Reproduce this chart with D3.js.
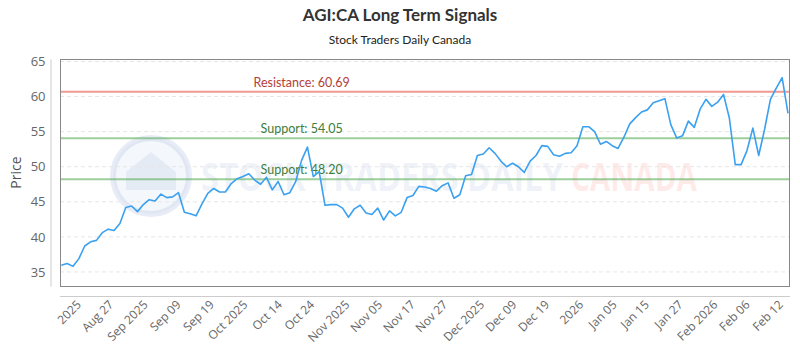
<!DOCTYPE html>
<html>
<head>
<meta charset="utf-8">
<script src="https://cdn.jsdelivr.net/npm/d3@7"></script>
<style>
  body { margin: 0; background: #fff; }
  svg { display: block; }
</style>
</head>
<body>
<div id="chart"></div>
<script>
// Closing prices, one per trading day
const prices = [
  35.96, 36.2, 35.8, 36.9, 38.7, 39.3, 39.5, 40.6, 41.1, 40.9,
  41.9, 44.2, 44.4, 43.6, 44.6, 45.3, 45.1, 46.1, 45.6, 45.7,
  46.3, 43.5, 43.3, 43.0, 44.7, 46.2, 46.9, 46.4, 46.4, 47.6,
  48.3, 48.6, 49.0, 48.1, 47.5, 48.5, 46.7, 47.9, 46.0, 46.3,
  47.9, 50.9, 52.8, 48.6, 49.3, 44.5, 44.6, 44.6, 44.1, 42.8,
  44.0, 44.5, 43.4, 43.2, 44.1, 42.4, 43.7, 43.0, 43.5, 45.6,
  45.9, 47.2, 47.1, 46.9, 46.5, 47.3, 47.7, 45.5, 46.0, 48.7,
  48.9, 51.6, 51.8, 52.7, 51.9, 50.8, 50.0, 50.5, 50.0, 49.2,
  50.8, 51.6, 53.0, 52.9, 51.7, 51.5, 51.9, 52.0, 53.0, 55.7,
  55.7, 55.0, 53.2, 53.6, 53.0, 52.6, 54.2, 56.1, 57.0, 57.8,
  58.1, 59.1, 59.4, 59.7, 56.0, 54.1, 54.4, 56.5, 55.6, 58.2,
  59.6, 58.6, 59.2, 60.3, 56.9, 50.3, 50.3, 52.3, 55.5, 51.6,
  55.3, 59.6, 61.2, 62.7, 57.6
];

// X tick labels and where they fall (in data-index units)
const tickLabels = ["2025", "Aug 27", "Sep 2025", "Sep 09", "Sep 19", "Oct 2025", "Oct 14", "Oct 24",
  "Nov 2025", "Nov 05", "Nov 17", "Nov 27", "Dec 2025", "Dec 09", "Dec 19", "2026",
  "Jan 05", "Jan 15", "Jan 27", "Feb 2026", "Feb 06", "Feb 12"];
const tickAt = [3.0, 8.5, 14.4, 20.0, 25.7, 31.4, 37.3, 42.8, 48.8, 54.4, 60.0, 65.5,
  71.8, 77.3, 82.9, 88.7, 94.4, 99.9, 105.7, 111.6, 117.1, 122.8];

const yTicks = [35, 40, 45, 50, 55, 60, 65];

// Horizontal signal levels
const levels = [
  { label: "Resistance: 60.69", value: 60.69, kind: "resistance" },
  { label: "Support: 54.05", value: 54.05, kind: "support" },
  { label: "Support: 48.20", value: 48.20, kind: "support" }
];

const width = 800, height = 350;
const plot = { left: 60, right: 790, top: 59, bottom: 286 };

const svg = d3.select("#chart")
  .append("svg")
  .attr("width", width)
  .attr("height", height)
  .style("font-family", "'Open Sans', sans-serif");

// Scales
const x = d3.scaleLinear().domain([0, prices.length - 1]).range([61.3, 788]);
const y = d3.scaleLinear().domain([33, 65.35]).range([plot.bottom, plot.top]);

// Title and subtitle
svg.append("text")
  .attr("x", width / 2).attr("y", 21)
  .attr("text-anchor", "middle")
  .style("font-family", "Lato, sans-serif")
  .style("font-size", "17px").style("font-weight", "bold")
  .attr("fill", "#333")
  .text("AGI:CA Long Term Signals");

svg.append("text")
  .attr("x", width / 2).attr("y", 44)
  .attr("text-anchor", "middle")
  .style("font-family", "Lato, sans-serif")
  .style("font-size", "12px")
  .attr("fill", "#222")
  .text("Stock Traders Daily Canada");

// Watermark (logo circle + text)
const wm = svg.append("g").attr("pointer-events", "none");
wm.append("circle")
  .attr("cx", 151).attr("cy", 176).attr("r", 38)
  .attr("fill", "rgba(220,228,242,0.3)")
  .attr("stroke", "rgba(195,208,232,0.4)")
  .attr("stroke-width", 6);
wm.append("path")
  .attr("d", "M126,190 L126,172 L151,152 L176,172 L176,190 Z")
  .attr("fill", "rgba(195,208,232,0.3)");
wm.append("text")
  .attr("x", 201).attr("y", 191)
  .attr("textLength", 362).attr("lengthAdjust", "spacingAndGlyphs")
  .style("font-size", "40px").style("font-weight", "bold")
  .attr("fill", "rgba(205,215,235,0.32)")
  .text("STOCK TRADERS DAILY");
wm.append("text")
  .attr("x", 571).attr("y", 191)
  .attr("textLength", 126).attr("lengthAdjust", "spacingAndGlyphs")
  .style("font-size", "40px").style("font-weight", "bold")
  .attr("fill", "rgba(255,195,195,0.35)")
  .text("CANADA");

// Dashed horizontal grid
svg.append("g")
  .selectAll("line")
  .data(yTicks)
  .join("line")
  .attr("x1", plot.left).attr("x2", plot.right)
  .attr("y1", d => y(d)).attr("y2", d => y(d))
  .attr("stroke", "#e6e6e6")
  .attr("stroke-dasharray", "4,3");

// Plot frame
svg.append("rect")
  .attr("x", plot.left + 0.5).attr("y", plot.top + 0.5)
  .attr("width", plot.right - plot.left - 1).attr("height", plot.bottom - plot.top)
  .attr("fill", "none")
  .attr("stroke", "#888");

// Y axis
const yAxis = svg.append("g")
  .attr("transform", "translate(50.5,0)")
  .call(d3.axisLeft(y).tickValues(yTicks).tickSize(0).tickSizeOuter(0).tickPadding(5));
yAxis.select(".domain").attr("stroke", "#ccc");
yAxis.selectAll("text")
  .style("font-size", "13px")
  .style("font-family", "'Open Sans', sans-serif")
  .attr("fill", "#666");

svg.append("text")
  .attr("transform", `translate(21,${(plot.top + plot.bottom) / 2}) rotate(-90)`)
  .attr("text-anchor", "middle")
  .style("font-size", "14px")
  .attr("fill", "#555")
  .text("Price");

// X axis
const xAxis = svg.append("g")
  .attr("transform", "translate(0,296.5)");
xAxis.append("line")
  .attr("x1", plot.left).attr("x2", plot.right)
  .attr("stroke", "#ccc");
xAxis.selectAll("text")
  .data(tickLabels)
  .join("text")
  .attr("transform", (d, i) => `translate(${x(tickAt[i])},6) rotate(-45)`)
  .attr("text-anchor", "end")
  .attr("dy", "0.35em")
  .style("font-size", "12px")
  .attr("fill", "#666")
  .text(d => d);

// Signal lines
svg.append("g")
  .selectAll("line")
  .data(levels)
  .join("line")
  .attr("x1", plot.left + 1).attr("x2", plot.right - 1)
  .attr("y1", d => y(d.value)).attr("y2", d => y(d.value))
  .attr("stroke", d => d.kind === "resistance" ? "rgba(235,110,100,0.7)" : "rgba(90,175,90,0.6)")
  .attr("stroke-width", 2);

svg.append("g")
  .selectAll("text")
  .data(levels)
  .join("text")
  .attr("x", plot.left + (plot.right - plot.left) * 0.331)
  .attr("y", d => y(d.value) - 5)
  .attr("text-anchor", "middle")
  .style("font-family", "Lato, sans-serif")
  .style("font-size", "12.5px")
  .attr("fill", d => d.kind === "resistance" ? "#b5403a" : "#3d7d3d")
  .text(d => d.label);

// Price line
const line = d3.line()
  .x((d, i) => x(i))
  .y(d => y(d));

svg.append("path")
  .datum(prices)
  .attr("fill", "none")
  .attr("stroke", "#3aa0f0")
  .attr("stroke-width", 1.6)
  .attr("stroke-linejoin", "round")
  .attr("d", line);
</script>
</body>
</html>
